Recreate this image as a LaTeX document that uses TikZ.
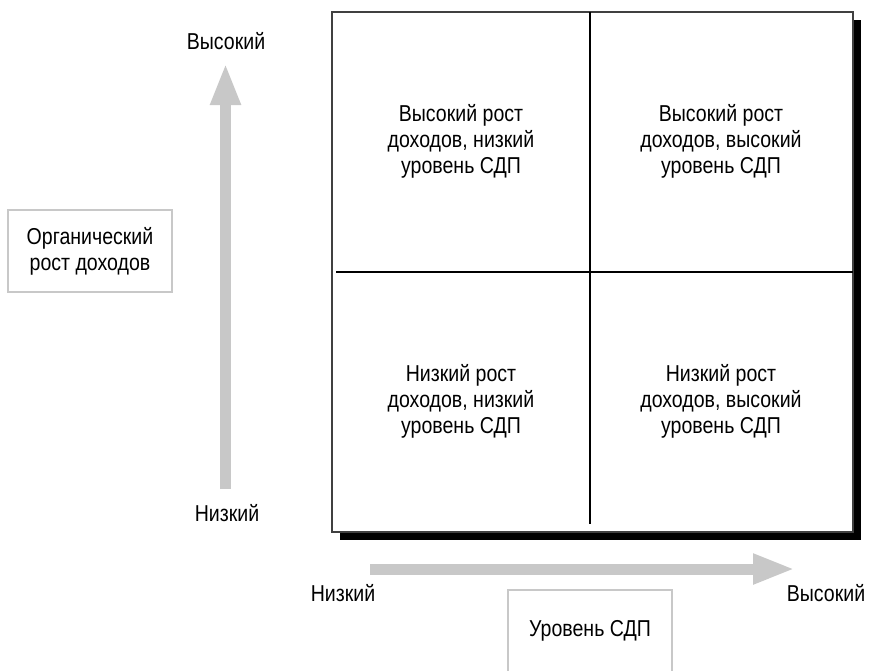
\documentclass[tikz,border=0pt]{standalone}
\usepackage{fontspec}
\setmainfont[FakeStretch=0.85]{Liberation Sans}
\usetikzlibrary{arrows.meta}

\definecolor{axisgray}{HTML}{C8C8C8}
\definecolor{framegray}{HTML}{404040}

\tikzset{
  axisarrow/.style={draw=axisgray, line width=5.5pt, -{Triangle[length=21pt, width=14pt]}},
  axisbox/.style={draw=axisgray, line width=1pt, fill=white, align=center, inner sep=0pt,
    minimum width=82pt, minimum height=41pt},
  cell/.style={align=center},
  txt/.style={font=\fontsize{11.5}{13}\selectfont},
}

\begin{document}
\begin{tikzpicture}[x=0.5pt, y=-0.5pt, txt]
    \useasboundingbox (0,0) rectangle (872,670);
    % matrix with shadow
    \fill[black] (340,20) rectangle (861,540);
    \draw[fill=white, draw=framegray, line width=1pt] (332,12) rectangle (853,532);
    \draw[black, line width=0.6pt] (590,12) -- (590,524);
    \draw[black, line width=0.6pt] (336,272) -- (853,272);
    \node[cell] (hl) at (461,141) {Высокий рост\\доходов, низкий\\уровень СДП};
    \node[cell] (hh) at (721,141) {Высокий рост\\доходов, высокий\\уровень СДП};
    \node[cell] (ll) at (461,401) {Низкий рост\\доходов, низкий\\уровень СДП};
    \node[cell] (lh) at (721,401) {Низкий рост\\доходов, высокий\\уровень СДП};
    % vertical axis
    \coordinate (ybot) at (225.5,489);
    \coordinate (ytop) at (225.5,63);
    \draw[axisarrow] (ybot) -- (ytop);
    \node (yhigh) at (226,41) {Высокий};
    \node (ylow) at (227,513) {Низкий};
    \node[axisbox] (ylabel) at (90,251) {Органический\\рост доходов};
    % horizontal axis
    \coordinate (xleft) at (370,569);
    \coordinate (xright) at (795,569);
    \draw[axisarrow] (xleft) -- (xright);
    \node (xlow) at (343,593) {Низкий};
    \node (xhigh) at (826,593) {Высокий};
    \node[axisbox] (xlabel) at (590,631) {Уровень СДП};
\end{tikzpicture}
\end{document}
